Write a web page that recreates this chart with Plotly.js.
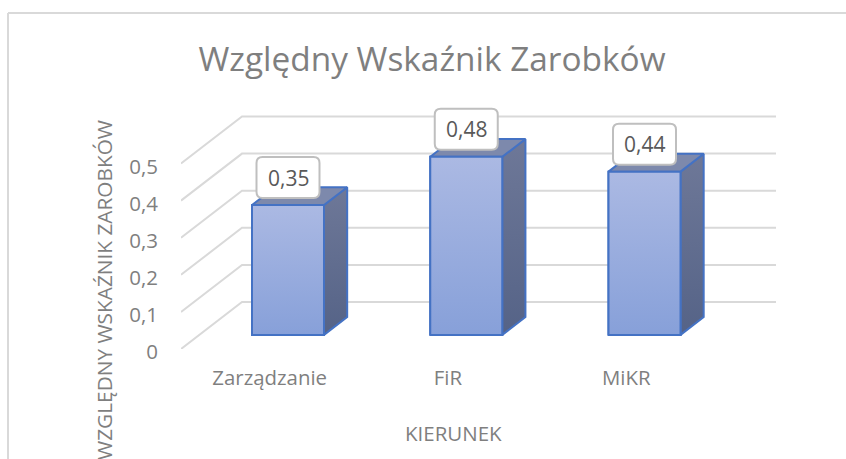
<!DOCTYPE html>
<html>
<head>
<meta charset="utf-8">
<script src="https://cdn.plot.ly/plotly-3.0.1.min.js"></script>
<style>html,body{margin:0;padding:0;background:#fff;overflow:hidden}#c{width:846px;height:459px}</style>
</head>
<body>
<div id="c"></div>
<script>
const categories = ['Zarządzanie', 'FiR', 'MiKR'];
const values = [0.35, 0.48, 0.44];
const yTicks = [0, 0.1, 0.2, 0.3, 0.4, 0.5];
const yTickLabels = ['0', '0,1', '0,2', '0,3', '0,4', '0,5'];
const chartTitle = 'Względny Wskaźnik Zarobków';
const xTitle = 'KIERUNEK';
const yTitle = 'WZGLĘDNY WSKAŹNIK ZAROBKÓW';

const W = 846, H = 459;
const plotL = 181, plotR = 776, plotT = 100, plotB = 349;
const pxPerCat = 178.25, pxPerVal = 371, originX = 269.7;
const xRange = [(plotL - originX) / pxPerCat, (plotR - originX) / pxPerCat];
const yRange = [0, (plotB - plotT) / pxPerVal];

// oblique projection used by the 3-D look: depth 0 = front of floor, 1 = back wall
const depthDx = 61 / pxPerCat, depthDy = 47 / pxPerVal;
const projX = (x, d) => x + d * depthDx;
const projY = (v, d) => v + d * depthDy;
const barFront = 0.30, barBack = 0.68, barHalf = 36 / pxPerCat;
const textGrey = '#7f7f7f', gridGrey = '#d9d9d9', edge = '#4472c4';
const paperX = p => (p - plotL) / (plotR - plotL);
const paperY = p => (plotB - p) / (plotB - plotT);

const idx = categories.map((_, i) => i);
const traces = [];

// side and top faces
const poly = (pts, extra) => Object.assign({
  type: 'scatter', mode: 'lines', x: pts.map(p => p[0]), y: pts.map(p => p[1]),
  fill: 'toself', line: {color: edge, width: 2, shape: 'linear'},
  hoverinfo: 'skip', showlegend: false
}, extra);

// real bars for the front faces
traces.push({
  type: 'bar', x: idx.map(i => projX(i, barFront)), y: values, base: projY(0, barFront),
  width: 2 * barHalf, marker: {color: '#98aadc', line: {color: edge, width: 2}},
  hoverinfo: 'skip', showlegend: false
});

idx.forEach(i => {
  const v = values[i];
  const l = i - barHalf, r = i + barHalf;
  const F = barFront, B = barBack;
  traces.push(poly([[projX(r, F), projY(0, F)], [projX(r, B), projY(0, B)], [projX(r, B), projY(v, B)], [projX(r, F), projY(v, F)], [projX(r, F), projY(0, F)]],
    {fillgradient: {type: 'vertical', colorscale: [[0, '#556387'], [1, '#6e7898']]}}));
  traces.push(poly([[projX(l, F), projY(v, F)], [projX(r, F), projY(v, F)], [projX(r, B), projY(v, B)], [projX(l, B), projY(v, B)], [projX(l, F), projY(v, F)]],
    {fillcolor: '#7d89ac'}));
  traces.push(poly([[projX(l, F), projY(0, F)], [projX(r, F), projY(0, F)], [projX(r, F), projY(v, F)], [projX(l, F), projY(v, F)], [projX(l, F), projY(0, F)]],
    {fillgradient: {type: 'vertical', colorscale: [[0, '#87a0d9'], [1, '#abb9e3']]}}));
});

const shapes = [];
// floor-to-wall grid lines
yTicks.forEach(t => {
  shapes.push({type: 'path', layer: 'below', xref: 'x', yref: 'y',
    path: `M ${xRange[0]} ${t} L ${xRange[0] + depthDx} ${projY(t, 1)} L ${xRange[1]} ${projY(t, 1)}`,
    line: {color: gridGrey, width: 2}});
});
// outer frame (open at right and bottom, as in the source crop)
shapes.push({type: 'line', layer: 'below', xref: 'paper', yref: 'paper', x0: paperX(8), x1: paperX(W), y0: paperY(13), y1: paperY(13), line: {color: gridGrey, width: 2}});
shapes.push({type: 'line', layer: 'below', xref: 'paper', yref: 'paper', x0: paperX(8), x1: paperX(8), y0: paperY(13), y1: paperY(H), line: {color: gridGrey, width: 2}});

// rounded data-label boxes
const bw = 31.5, bh = 20.5, rr = 6, lift = 27.5;
const annotations = [];
idx.forEach(i => {
  const cx = projX(i, barFront), top = projY(values[i], barFront);
  const y0 = lift - bh, y1 = lift + bh;
  shapes.push({type: 'path', layer: 'above', xref: 'x', yref: 'y', xsizemode: 'pixel', ysizemode: 'pixel',
    xanchor: cx, yanchor: top,
    path: `M ${-bw + rr} ${y0} L ${bw - rr} ${y0} Q ${bw} ${y0} ${bw} ${y0 + rr} L ${bw} ${y1 - rr} Q ${bw} ${y1} ${bw - rr} ${y1} L ${-bw + rr} ${y1} Q ${-bw} ${y1} ${-bw} ${y1 - rr} L ${-bw} ${y0 + rr} Q ${-bw} ${y0} ${-bw + rr} ${y0} Z`,
    fillcolor: '#ffffff', line: {color: '#bfbfbf', width: 2}});
  annotations.push({x: cx, y: top, xref: 'x', yref: 'y', yshift: lift, showarrow: false,
    text: values[i].toFixed(2).replace('.', ','), font: {family: 'Open Sans', size: 21, color: '#595959'}});
});
annotations.push({xref: 'paper', yref: 'paper', x: paperX(104), y: paperY(118), xanchor: 'center', yanchor: 'top',
  textangle: -90, showarrow: false, text: yTitle, font: {family: 'Open Sans', size: 20.8, color: textGrey}});
annotations.push({xref: 'paper', yref: 'paper', x: paperX(453), y: paperY(433), xanchor: 'center', yanchor: 'middle',
  showarrow: false, text: xTitle, font: {family: 'Open Sans', size: 20.5, color: textGrey}});

const layout = {
  width: W, height: H, paper_bgcolor: '#ffffff', plot_bgcolor: 'rgba(0,0,0,0)',
  margin: {l: plotL, r: W - plotR, t: plotT, b: H - plotB, pad: 0},
  showlegend: false, font: {family: 'Open Sans', color: textGrey},
  title: {text: chartTitle, x: 432 / W, xanchor: 'center', y: 1 - 59 / H, yanchor: 'middle',
    font: {family: 'Open Sans', size: 33.4, color: textGrey}},
  xaxis: {range: xRange, tickmode: 'array', tickvals: idx, ticktext: categories, showgrid: false, zeroline: false,
    showline: false, ticks: '', ticklabelstandoff: 15, tickfont: {family: 'Open Sans', size: 20.4, color: textGrey}},
  yaxis: {range: yRange, tickmode: 'array', tickvals: yTicks, ticktext: yTickLabels, showgrid: false, zeroline: false,
    showline: false, ticks: '', ticklabelstandoff: 22, ticklabelshift: 3, tickfont: {family: 'Open Sans', size: 20.5, color: textGrey}},
  shapes, annotations
};
Plotly.newPlot('c', traces, layout, {displayModeBar: false, staticPlot: true});
</script>
</body>
</html>
